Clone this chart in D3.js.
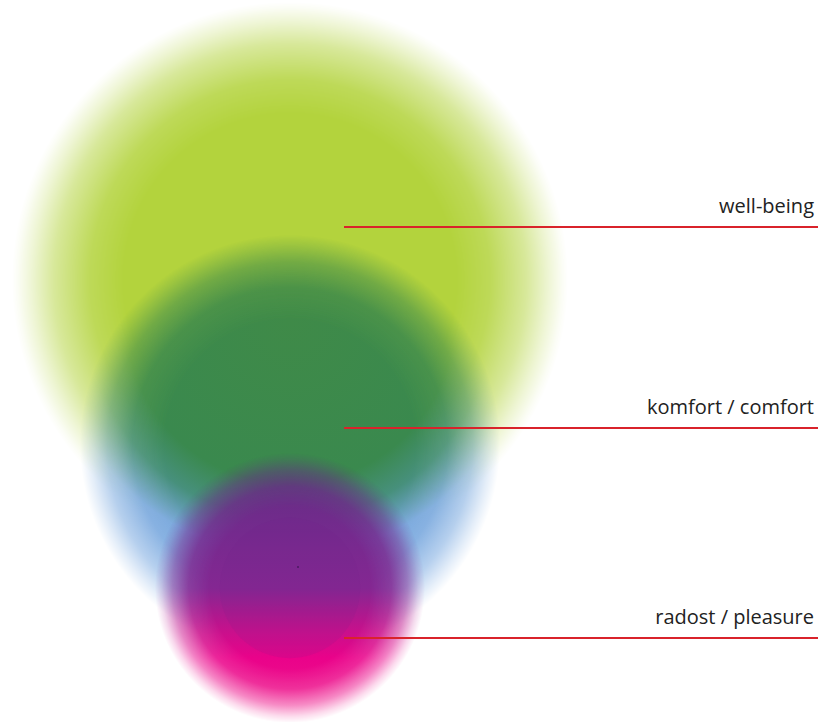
<!DOCTYPE html>
<html>
<head>
<meta charset="utf-8">
<script src="https://cdn.jsdelivr.net/npm/d3@7"></script>
<style>
  html, body { margin: 0; padding: 0; background: #fff; }
  svg { display: block; }
</style>
</head>
<body>
<div class="chart"></div>
<script>
// categories, from the biggest circle to the smallest
const categories = ['well-being', 'komfort / comfort', 'radost / pleasure']
// circle radius, in chart units
const radii = [5.56, 4.2, 2.7]
// vertical position of each circle centre, in chart units
const centers = [5.6, 8.9, 11.76]
// vertical position of each label line, in chart units
const labelLevels = [4.54, 8.56, 12.76]
// colour ramps of each circle
const ramps = [
  [[0, '#b3d33d'], [1, '#b3d33d']],
  [[0, '#3f8a48'], [0.46, '#3a894e'], [0.56, '#47907c'], [0.66, '#76a6dc'], [1, '#86b2ea']],
  [[0, '#5e2f80'], [0.3, '#752a8e'], [0.5, '#842792'], [0.66, '#c8108c'], [0.76, '#ea028a'], [1, '#f0208c']],
]

const WIDTH = 819
const HEIGHT = 722
const CX = 290

const svg = d3
  .select('.chart')
  .append('svg')
  .attr('width', WIDTH)
  .attr('height', HEIGHT)

const y = d3.scaleLinear().domain([0, 14.44]).range([0, HEIGHT])
const r = d3.scaleLinear().domain([0, 14.44]).range([0, HEIGHT])

const defs = svg.append('defs')

// soft edge: opaque in the middle, fading out towards the rim
const fades = [
  [[0, 1], [0.6, 1], [0.72, 0.86], [0.85, 0.52], [0.93, 0.22], [0.98, 0.05], [1, 0]],
  [[0, 1], [0.6, 1], [0.75, 0.88], [0.87, 0.55], [0.95, 0.2], [1, 0]],
  [[0, 1], [0.6, 1], [0.75, 0.86], [0.87, 0.5], [0.95, 0.16], [1, 0]],
]

categories.forEach((c, i) => {
  const rg = defs
    .append('radialGradient')
    .attr('id', `fade${i}`)
  rg.selectAll('stop')
    .data(fades[i])
    .enter()
    .append('stop')
    .attr('offset', d => d[0])
    .attr('stop-color', '#fff')
    .attr('stop-opacity', d => d[1])

  defs
    .append('mask')
    .attr('id', `mask${i}`)
    .attr('maskContentUnits', 'objectBoundingBox')
    .style('mask-type', 'alpha')
    .append('circle')
    .attr('cx', 0.5)
    .attr('cy', 0.5)
    .attr('r', 0.5)
    .attr('fill', `url(#fade${i})`)

  // comfort turns blue towards its lower rim, the others run top to bottom
  const grad =
    i === 1
      ? defs
          .append('radialGradient')
          .attr('id', `ramp${i}`)
          .attr('cx', 0.5)
          .attr('cy', 0.2)
          .attr('r', 0.85)
      : defs
          .append('linearGradient')
          .attr('id', `ramp${i}`)
          .attr('x1', 0)
          .attr('y1', 0)
          .attr('x2', 0)
          .attr('y2', 1)
  grad
    .selectAll('stop')
    .data(ramps[i])
    .enter()
    .append('stop')
    .attr('offset', d => d[0])
    .attr('stop-color', d => d[1])
})

const bubbles = svg
  .selectAll('.bubble')
  .data(categories)
  .enter()
  .append('g')
  .attr('class', 'bubble')

bubbles
  .append('circle')
  .attr('cx', CX)
  .attr('cy', (d, i) => y(centers[i]))
  .attr('r', (d, i) => r(radii[i]))
  .attr('fill', (d, i) => `url(#ramp${i})`)
  .attr('mask', (d, i) => `url(#mask${i})`)

// the inner core of the smallest circle is a little denser
const last = categories.length - 1
svg
  .append('circle')
  .attr('cx', CX)
  .attr('cy', y(centers[last]))
  .attr('r', r(radii[last]) * 0.52)
  .attr('fill', '#70208a')
  .attr('opacity', 0.12)

svg
  .append('circle')
  .attr('cx', CX + 8)
  .attr('cy', y(centers[last]) - 21)
  .attr('r', 1)
  .attr('fill', '#4a1a60')

const labels = svg
  .selectAll('.label')
  .data(categories)
  .enter()
  .append('g')
  .attr('class', 'label')

labels
  .append('line')
  .attr('x1', 344)
  .attr('x2', 818)
  .attr('y1', (d, i) => y(labelLevels[i]))
  .attr('y2', (d, i) => y(labelLevels[i]))
  .attr('stroke', '#d9232b')
  .attr('stroke-width', 2)

labels
  .append('text')
  .text(d => d)
  .attr('x', 814)
  .attr('y', (d, i) => y(labelLevels[i]) - 14)
  .attr('text-anchor', 'end')
  .attr('font-family', '"Open Sans", sans-serif')
  .attr('font-size', 20)
  .attr('fill', '#222')
</script>
</body>
</html>
